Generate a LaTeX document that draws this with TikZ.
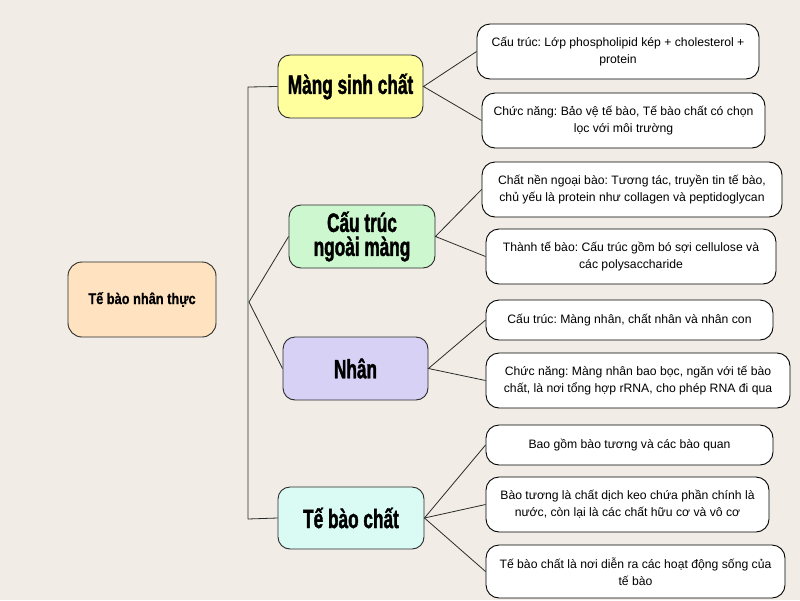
\documentclass[tikz,border=0pt]{standalone}
\usepackage{fontspec}
\setmainfont{Liberation Sans}
\newfontfamily\headfont{Liberation Sans Bold}[FakeStretch=0.65,FakeBold=1.4]
\newfontfamily\rootfont{Liberation Sans Bold}[FakeStretch=0.83,FakeBold=0.8]
\definecolor{bg}{HTML}{F1EDE6}
\definecolor{cyel}{HTML}{FFFF9E}
\definecolor{cgrn}{HTML}{CCF7CF}
\definecolor{clav}{HTML}{D8D1F6}
\definecolor{ccya}{HTML}{D9FBF3}
\definecolor{corg}{HTML}{FFE3C0}
\definecolor{edge}{HTML}{2A2A2A}
\frenchspacing
\begin{document}
\begin{tikzpicture}[x=1pt,y=-1pt,
  mid/.style={draw=edge, line width=0.9pt, rounded corners=12pt, align=center,
    inner sep=0pt, font=\headfont\fontsize{26.5}{24}\selectfont},
  rootbox/.style={draw=edge, line width=0.9pt, rounded corners=14pt, fill=corg,
    inner sep=0pt, font=\rootfont\fontsize{15.4}{18}\selectfont},
  leaf/.style={draw=black, fill=white, line width=0.9pt, rounded corners=13pt,
    align=center, inner sep=0pt, font=\fontsize{12.2}{17}\selectfont},
  link/.style={draw=edge, line width=0.8pt}]
\fill[bg] (0,0) rectangle (800,600);
\useasboundingbox (0,0) rectangle (800,600);

% root
\node[rootbox, minimum width=148pt, minimum height=75pt] (root) at (142,299.5) {Tế bào nhân thực};

% middle nodes
\node[mid, fill=cyel, minimum width=145pt, minimum height=63pt] (msc) at (350.5,86.5) {Màng sinh chất};
\node[mid, fill=cgrn, minimum width=146pt, minimum height=63pt] (ctn) at (362,236.5) {Cấu trúc\\ngoài màng};
\node[mid, fill=clav, minimum width=145pt, minimum height=63pt] (nhan) at (355.5,368.5) {Nhân};
\node[mid, fill=ccya, minimum width=146pt, minimum height=62pt] (tbc) at (351,518) {Tế bào chất};

% leaves
\node[leaf, minimum width=282pt, minimum height=55pt] (l1) at (618,51.5) {Cấu trúc: Lớp phospholipid kép + cholesterol +\\protein};
\node[leaf, minimum width=283pt, minimum height=55pt] (l2) at (623.5,120.5) {Chức năng: Bảo vệ tế bào, Tế bào chất có chọn\\lọc với môi trường};
\node[leaf, minimum width=300pt, minimum height=55pt] (l3) at (632,189.5) {Chất nền ngoại bào: Tương tác, truyền tin tế bào,\\chủ yếu là protein như collagen và peptidoglycan};
\node[leaf, minimum width=290pt, minimum height=55pt] (l4) at (631,256.5) {Thành tế bào: Cấu trúc gồm bó sợi cellulose và\\các polysaccharide};
\node[leaf, minimum width=287pt, minimum height=40pt] (l5) at (629.5,320) {Cấu trúc: Màng nhân, chất nhân và nhân con};
\node[leaf, minimum width=304pt, minimum height=55pt] (l6) at (638,380.5) {Chức năng: Màng nhân bao bọc, ngăn với tế bào\\chất, là nơi tổng hợp rRNA, cho phép RNA đi qua};
\node[leaf, minimum width=287pt, minimum height=40pt] (l7) at (629.5,445) {Bao gồm bào tương và các bào quan};
\node[leaf, minimum width=283pt, minimum height=55pt] (l8) at (627.5,504.5) {Bào tương là chất dịch keo chứa phần chính là\\nước, còn lại là các chất hữu cơ và vô cơ};
\node[leaf, minimum width=299pt, minimum height=53pt] (l9) at (635.5,571.5) {Tế bào chất là nơi diễn ra các hoạt động sống của\\tế bào};

% trunk
\coordinate (ttop) at (248,87);
\coordinate (tbot) at (248,519);
\coordinate (tj) at (249,302);
\draw[link] (msc.west) -- (ttop) -- (tbot) -- (tbc.west);
\draw[link] (ctn.west) -- (tj) -- (nhan.west);

% branches
\draw[link] (l1.west) -- (msc.east) -- (l2.west);
\draw[link] (l3.west) -- (ctn.east) -- (l4.west);
\draw[link] (l5.west) -- (nhan.east) -- (l6.west);
\draw[link] (tbc.east) -- (l7.west);
\draw[link] (tbc.east) -- (l8.west);
\draw[link] (tbc.east) -- (l9.west);
\end{tikzpicture}
\end{document}
